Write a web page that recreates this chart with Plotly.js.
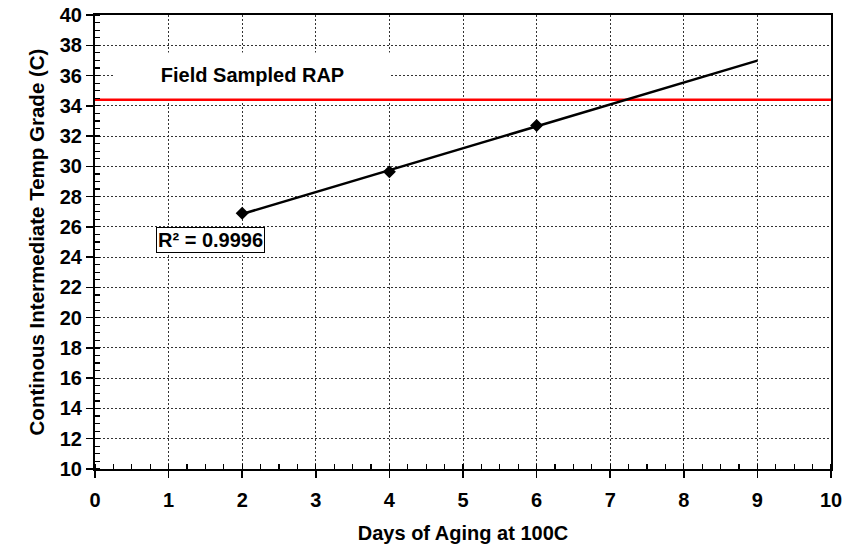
<!DOCTYPE html>
<html>
<head>
<meta charset="utf-8">
<script src="https://cdn.plot.ly/plotly-3.0.1.min.js"></script>
<style>html,body{margin:0;padding:0;background:#fff;}#chart{width:858px;height:553px;}</style>
</head>
<body>
<div id="chart"></div>
<script>
// Data
const days = [2, 4, 6];
const tempGrade = [26.9, 29.65, 32.69];
const trendX = [2, 9];           // trendline extent (forecast to day 9)
const fieldRapX = [0, 10];
const fieldRapValue = [34.4, 34.4];
const xTicks = [0,1,2,3,4,5,6,7,8,9,10];
const yTicks = [10,12,14,16,18,20,22,24,26,28,30,32,34,36,38,40];
const fieldLabel = 'Field Sampled RAP';
const r2Label = 'R² = 0.9996';

// least-squares linear trendline from the data
const n = days.length;
const mx = days.reduce((a,b)=>a+b,0)/n;
const my = tempGrade.reduce((a,b)=>a+b,0)/n;
let sxy = 0, sxx = 0;
for (let i=0;i<n;i++){ sxy += (days[i]-mx)*(tempGrade[i]-my); sxx += (days[i]-mx)**2; }
const slope = sxy/sxx, icpt = my - slope*mx;
const trendY = trendX.map(x => icpt + slope*x);

const FONT = 'Liberation Sans, Arial, sans-serif';
const traces = [
  {x: fieldRapX, y: fieldRapValue, mode: 'lines', line: {color: '#ff0000', width: 2.5}, hoverinfo: 'skip'},
  {x: trendX, y: trendY, mode: 'lines', line: {color: '#000', width: 2.5}, hoverinfo: 'skip'},
  {x: days, y: tempGrade, mode: 'markers', marker: {symbol: 'diamond', size: 10, color: '#000'}}
];

const axisCommon = {
  showline: true, linecolor: '#000', linewidth: 2, mirror: true,
  showgrid: true, gridcolor: '#333', gridwidth: 1, griddash: '2px,2px',
  zeroline: false, ticks: 'outside', ticklen: 7, tickcolor: '#000', tickwidth: 1.5,
  tickfont: {family: FONT, size: 20, color: '#000', weight: 700},
  fixedrange: true
};

const layout = {
  width: 858, height: 553,
  margin: {l: 95, r: 27, t: 15, b: 84},
  paper_bgcolor: '#fff', plot_bgcolor: '#fff',
  showlegend: false,
  font: {family: FONT, color: '#000'},
  xaxis: Object.assign({}, axisCommon, {
    range: [0, 10], tickmode: 'array', tickvals: xTicks, ticktext: xTicks.map(String),
    ticklabelstandoff: 5,
    minor: {dtick: 0.25, ticks: 'inside', ticklen: 5, tickcolor: '#000', tickwidth: 1.2, showgrid: false},
    title: {text: 'Days of Aging at 100C', font: {family: FONT, size: 20, color: '#000', weight: 700}, standoff: 16}
  }),
  yaxis: Object.assign({}, axisCommon, {
    range: [10, 40], tickmode: 'array', tickvals: yTicks, ticktext: yTicks.map(String),
    minor: {dtick: 0.5, ticks: 'inside', ticklen: 5, tickcolor: '#000', tickwidth: 1.2, showgrid: false},
    title: {text: 'Continous Intermediate Temp Grade (C)', font: {family: FONT, size: 20.5, color: '#000', weight: 700}, standoff: 10}
  }),
  annotations: [
    {text: fieldLabel, xref: 'x', yref: 'y', x: 2.14, y: 36.04, showarrow: false,
     font: {family: FONT, size: 20, color: '#000', weight: 700},
     bgcolor: '#fff', width: 275, height: 44, borderpad: 0},
    {text: r2Label, xref: 'x', yref: 'y', x: 1.5625, y: 25.1, showarrow: false,
     font: {family: FONT, size: 20, color: '#000', weight: 700},
     bgcolor: '#fff', bordercolor: '#000', borderwidth: 1, borderpad: 1}
  ]
};

Plotly.newPlot('chart', traces, layout, {displayModeBar: false, staticPlot: true});
</script>
</body>
</html>
